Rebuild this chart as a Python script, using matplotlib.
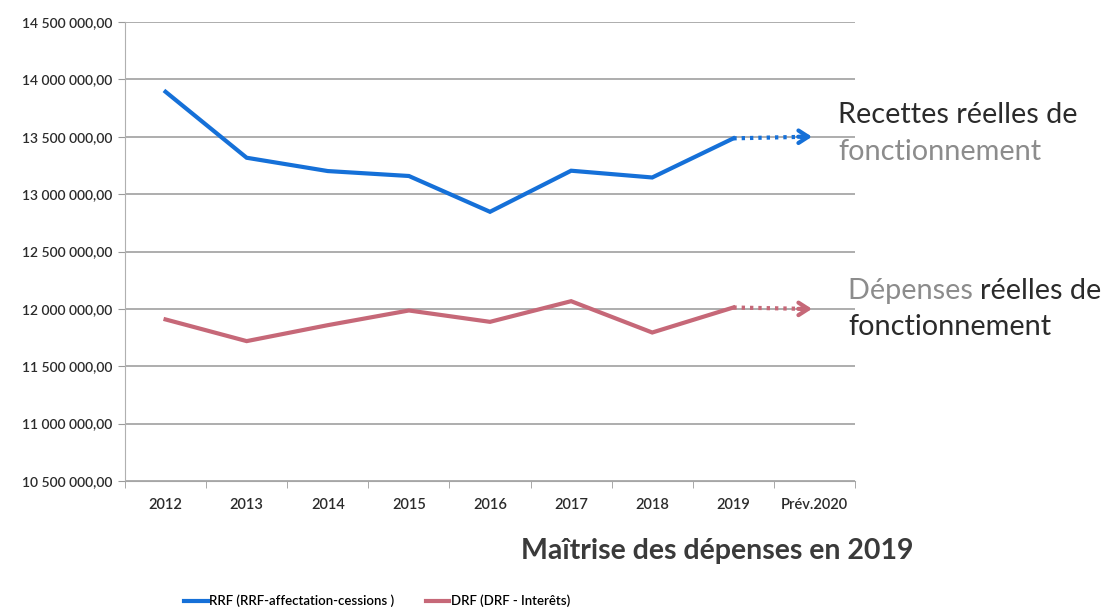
import matplotlib
matplotlib.use("Agg")
import matplotlib.pyplot as plt
from matplotlib.ticker import FuncFormatter, FixedLocator

plt.rcParams["font.family"] = ["Lato", "DejaVu Sans"]

years = ["2012", "2013", "2014", "2015", "2016", "2017", "2018", "2019", "Prév.2020"]
rrf = [13892000, 13317000, 13201000, 13158000, 12846000, 13204000, 13145000, 13486000]
drf = [11908000, 11719000, 11858000, 11986000, 11887000, 12067000, 11794000, 12012000]
rrf_prev = 13500000
drf_prev = 12000000

blue = "#1570d8"
pink = "#c66878"
dark = "#2b2b2b"
grey = "#8c8c8c"


def fr_format(v, pos=None):
    s = f"{v:,.2f}"
    return s.replace(",", " ").replace(".", ",")


fig = plt.figure(figsize=(11.04, 6.09), dpi=100)
ax = fig.add_axes([125 / 1104, 1 - 481 / 609, 730 / 1104, 459 / 609])

x = list(range(len(rrf)))
line_rrf, = ax.plot(x, rrf, color=blue, lw=3, solid_joinstyle="miter", zorder=3)
line_drf, = ax.plot(x, drf, color=pink, lw=3, solid_joinstyle="miter", zorder=3)

# forecast segments: dotted line + open arrow head
last = len(rrf) - 1
fc = len(years) - 1
for vals, prev, col in [(rrf, rrf_prev, blue), (drf, drf_prev, pink)]:
    ax.plot([last, fc - 0.1], [vals[-1], prev], color=col, lw=3, ls=(0, (0.8, 1.2)), zorder=3)
    ax.annotate("", xy=(fc - 0.03, prev), xytext=(fc - 0.2, prev),
                arrowprops=dict(arrowstyle="->,head_length=0.7,head_width=0.45",
                                color=col, lw=3, shrinkA=0, shrinkB=0))

ax.set_xlim(-0.5, len(years) - 0.5)
ax.set_ylim(10500000, 14500000)
ax.set_yticks([10500000 + 500000 * i for i in range(9)])
ax.yaxis.set_major_formatter(FuncFormatter(fr_format))
ax.set_xticks(range(len(years)))
ax.set_xticklabels(years)
ax.xaxis.set_minor_locator(FixedLocator([i - 0.5 for i in range(len(years) + 1)]))
ax.tick_params(axis="x", which="major", length=0, pad=12, labelsize=10.5, labelcolor=dark)
ax.tick_params(axis="x", which="minor", length=5, color="#9a9a9a")
ax.tick_params(axis="y", length=5, color="#9a9a9a", labelsize=10, labelcolor=dark, pad=4)

ax.grid(axis="y", color="#a0a0a0", lw=1.2)
ax.set_axisbelow(True)
for side in ["top", "right"]:
    ax.spines[side].set_visible(False)
ax.spines["left"].set_color("#b0b0b0")
ax.spines["bottom"].set_color("#a6a6a6")
for lab in ax.get_xticklabels() + ax.get_yticklabels():
    lab.set_fontweight("semibold")

# side annotations
fs = 20.8
fig.text(838 / 1104, 1 - 115 / 609, "Recettes réelles de", fontsize=fs, color=dark, va="center")
fig.text(838 / 1104, 1 - 152 / 609, "fonctionnement", fontsize=fs, color=grey, va="center")
t1 = fig.text(848 / 1104, 1 - 291 / 609, "Dépenses ", fontsize=fs, color=grey, va="center")
fig.canvas.draw()
bb = t1.get_window_extent()
fig.text(bb.x1 / 1104, 1 - 291 / 609, "réelles de", fontsize=fs, color=dark, va="center")
fig.text(848 / 1104, 1 - 327 / 609, "fonctionnement", fontsize=fs, color=dark, va="center")

fig.text(717 / 1104, 1 - 551 / 609, "Maîtrise des dépenses en 2019", fontsize=20.5,
         fontweight="bold", color="#3a3a3a", ha="center", va="center")

line_rrf.set_label("RRF (RRF-affectation-cessions )")
line_drf.set_label("DRF (DRF - Interêts)")
fig.legend(handles=[line_rrf, line_drf], loc="center left",
           bbox_to_anchor=(172 / 1104, 1 - 601 / 609), ncol=2, frameon=False,
           handlelength=1.8, handletextpad=0.1, columnspacing=2.4,
           prop={"weight": "semibold", "size": 9.5})

fig.savefig("out.png", dpi=100)
